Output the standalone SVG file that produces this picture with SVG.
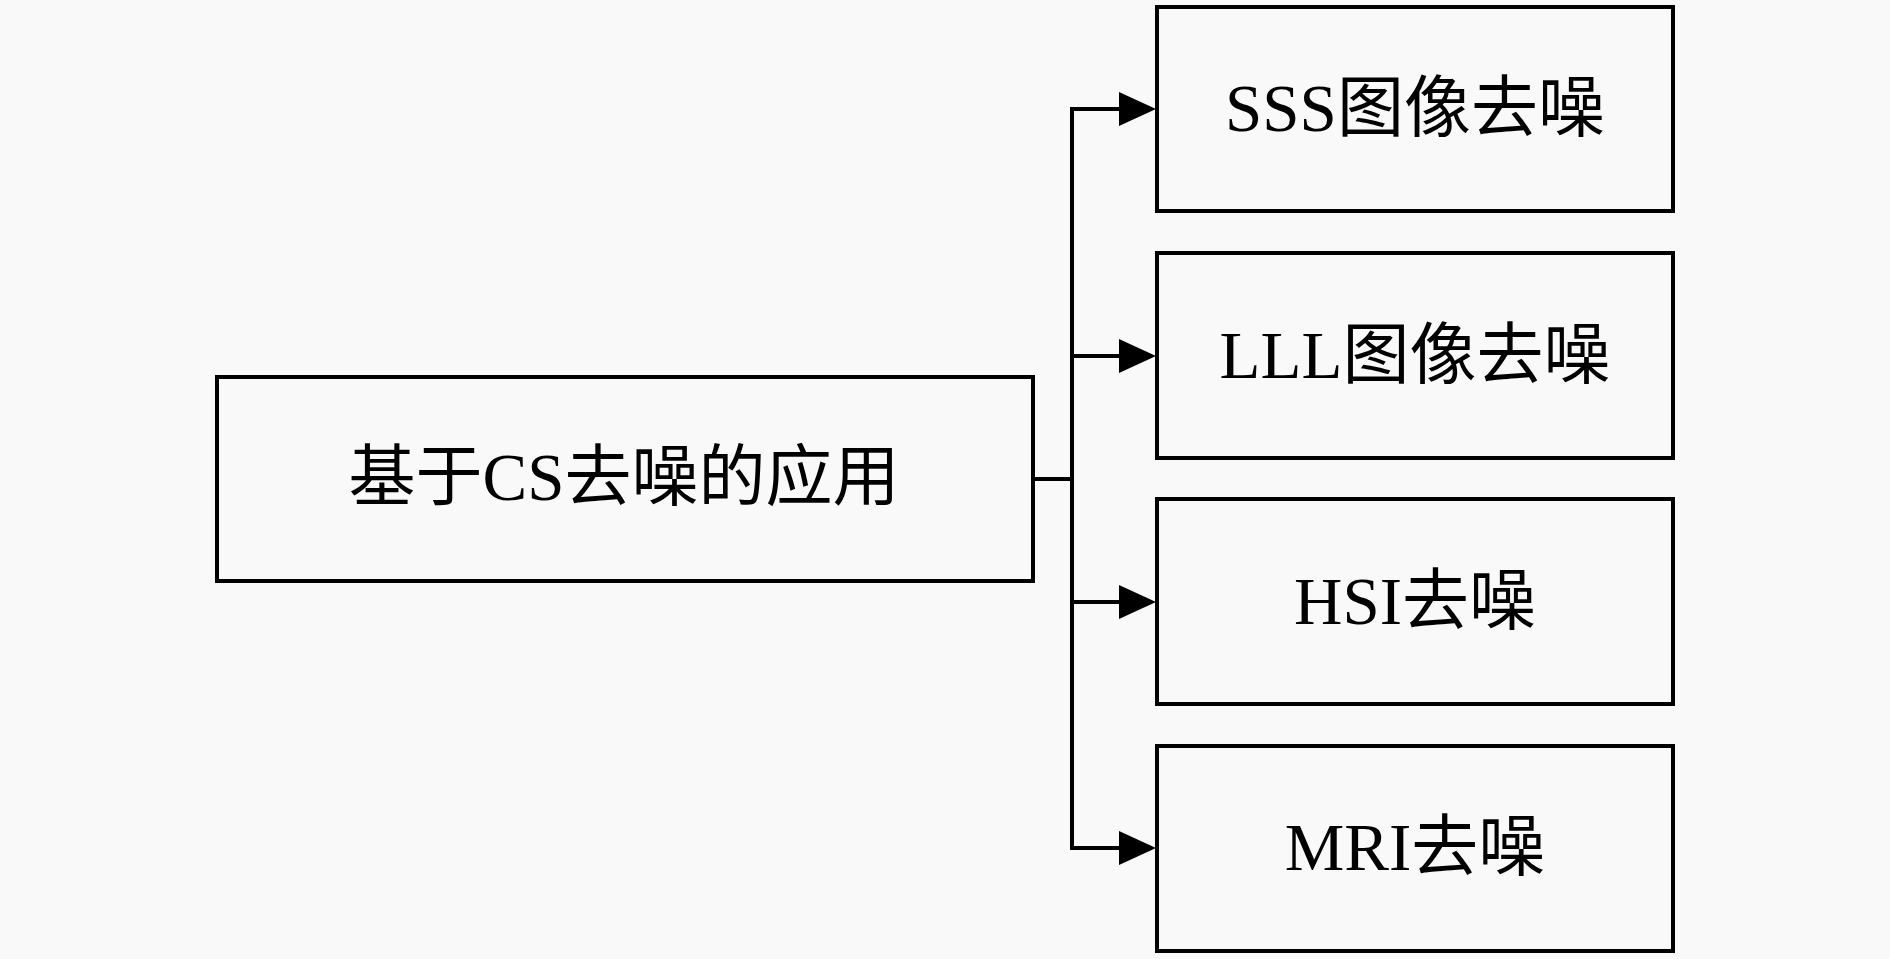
<svg xmlns="http://www.w3.org/2000/svg" width="1890" height="959" viewBox="0 0 1890 959">
<style>
.box{fill:#f9f9f9;stroke:#000;stroke-width:4}
.lbl{font-family:"Liberation Serif","Noto Sans CJK SC",serif;font-size:67px;fill:#000;text-anchor:middle;dominant-baseline:central}
.con{fill:none;stroke:#000;stroke-width:4}
.head{fill:#000}
</style>
<rect width="1890" height="959" fill="#f9f9f9"/>
<g id="main">
<rect class="box" x="217" y="377" width="816" height="204"/>
<text class="lbl" x="624" y="477">基于CS去噪的应用</text>
</g>
<g id="sss">
<rect class="box" x="1157" y="7" width="516" height="204"/>
<text class="lbl" x="1415" y="108">SSS图像去噪</text>
</g>
<g id="lll">
<rect class="box" x="1157" y="253" width="516" height="205"/>
<text class="lbl" x="1415" y="355">LLL图像去噪</text>
</g>
<g id="hsi">
<rect class="box" x="1157" y="499" width="516" height="205"/>
<text class="lbl" x="1415" y="601">HSI去噪</text>
</g>
<g id="mri">
<rect class="box" x="1157" y="746" width="516" height="205"/>
<text class="lbl" x="1415" y="847">MRI去噪</text>
</g>
<g id="connectors">
<path class="con" d="M1033 479 H1072 M1072 107 V850 M1070 109 H1122 M1072 356 H1122 M1072 602 H1122 M1070 848 H1122"/>
<polygon class="head" points="1119,92 1156,109 1119,126"/>
<polygon class="head" points="1119,339 1156,356 1119,373"/>
<polygon class="head" points="1119,585 1156,602 1119,619"/>
<polygon class="head" points="1119,831 1156,848 1119,865"/>
</g>
</svg>
